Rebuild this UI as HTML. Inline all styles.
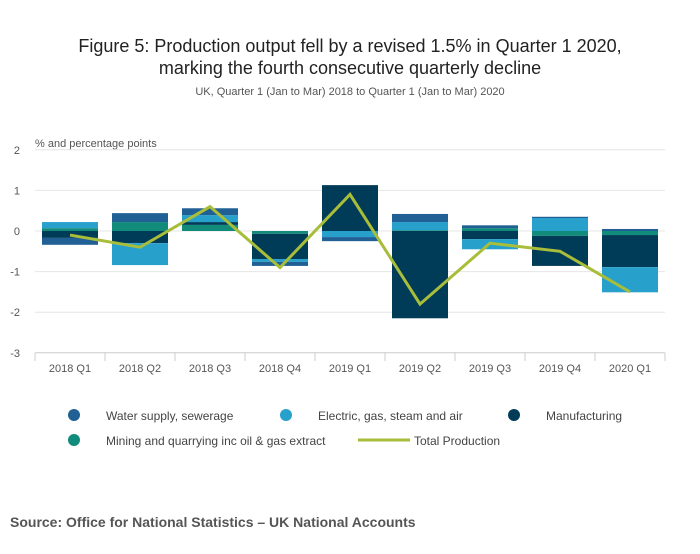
<!DOCTYPE html>
<html><head><meta charset="utf-8">
<style>
body{margin:0;background:#fff;font-family:"Liberation Sans",sans-serif;}
svg text{font-family:"Liberation Sans",sans-serif;}
</style></head>
<body>
<svg width="700" height="549" viewBox="0 0 700 549">
<text x="350" y="52" text-anchor="middle" font-size="18" fill="#222">Figure 5: Production output fell by a revised 1.5% in Quarter 1 2020,</text>
<text x="350" y="74" text-anchor="middle" font-size="18" fill="#222">marking the fourth consecutive quarterly decline</text>
<text x="350" y="95" text-anchor="middle" font-size="11" fill="#555">UK, Quarter 1 (Jan to Mar) 2018 to Quarter 1 (Jan to Mar) 2020</text>
<text x="35" y="147" font-size="11" fill="#555">% and percentage points</text>
<g id="grid"></g><g id="bars"></g><g id="line"></g><g id="axis"></g>
<g>
<g><circle cx="74" cy="415" r="6" fill="#206095"/><text x="106" y="420" font-size="12" fill="#444">Water supply, sewerage</text></g>
<g><circle cx="286" cy="415" r="6" fill="#27a0cc"/><text x="318" y="420" font-size="12" fill="#444">Electric, gas, steam and air</text></g>
<g><circle cx="514" cy="415" r="6" fill="#003c57"/><text x="546" y="420" font-size="12" fill="#444">Manufacturing</text></g>
<g><circle cx="74" cy="440" r="6" fill="#118c7b"/><text x="106" y="445" font-size="12" fill="#444">Mining and quarrying inc oil &amp; gas extract</text></g>
<g><line x1="358" y1="440" x2="410" y2="440" stroke="#a8bd3a" stroke-width="3"/><text x="414" y="445" font-size="12" fill="#444">Total Production</text></g>
</g>
<text x="10" y="527" font-size="14" font-weight="bold" fill="#555">Source: Office for National Statistics – UK National Accounts</text>
</svg>
<script>
const categories=["2018 Q1","2018 Q2","2018 Q3","2018 Q4","2019 Q1","2019 Q2","2019 Q3","2019 Q4","2020 Q1"];
const water=[-0.17,0.22,0.17,-0.1,-0.1,0.2,0.07,0.03,0.05];
const electric=[0.15,-0.54,0.17,-0.07,-0.15,0.2,-0.25,0.32,-0.62];
const manufacturing=[-0.17,-0.3,0.07,-0.62,1.13,-2.15,-0.2,-0.74,-0.79];
const mining=[0.07,0.22,0.15,-0.07,0.0,0.02,0.07,-0.12,-0.1];
const total=[-0.1,-0.4,0.6,-0.9,0.9,-1.8,-0.3,-0.5,-1.5];
const yTicks=[2,1,0,-1,-2,-3];
const NS="http://www.w3.org/2000/svg";
const x0=35,bw=70,y0=231,pu=40.6;
const y=v=>y0-v*pu;
const xc=i=>x0+bw*(i+0.5);
function mk(t,a,p){const e=document.createElementNS(NS,t);for(const k in a)e.setAttribute(k,a[k]);p.appendChild(e);return e;}
const grid=document.getElementById('grid');
yTicks.forEach(t=>{
 const l=mk('line',{x1:x0,x2:665,y1:y(t),y2:y(t),stroke:t===-3?'#ccc':'#e6e6e6','stroke-width':1},grid);
 
 
 const tx=mk('text',{x:20,y:y(t)+4,'text-anchor':'end','font-size':11,fill:'#555'},grid);
 tx.textContent=t;
 
 
});
const bars=document.getElementById('bars');
const series=[["mining",mining,"#118c7b"],["manufacturing",manufacturing,"#003c57"],["electric",electric,"#27a0cc"],["water",water,"#206095"]];
categories.forEach((c,i)=>{
 let pos=0,neg=0;
 series.forEach(([n,d,col])=>{
  const v=d[i];let a,b;
  if(v>=0){a=pos;b=pos+v;pos=b;}else{a=neg;b=neg+v;neg=b;}
  const r=mk('rect',{x:xc(i)-28,width:56,y:Math.min(y(a),y(b)),height:Math.abs(y(a)-y(b)),fill:col},bars);
  
  
 });
});
const lg=document.getElementById('line');
const p=mk('polyline',{points:total.map((v,i)=>xc(i)+','+y(v)).join(' '),fill:'none',stroke:'#a8bd3a','stroke-width':3,'stroke-linejoin':'miter'},lg);


const ax=document.getElementById('axis');
for(let i=0;i<=categories.length;i++){
 const t=mk('line',{x1:x0+bw*i,x2:x0+bw*i,y1:353,y2:361,stroke:'#ccc'},ax);
 
 
}
categories.forEach((c,i)=>{
 const t=mk('text',{x:xc(i),y:372,'text-anchor':'middle','font-size':11,fill:'#555'},ax);
 t.textContent=c;
 
 
});
</script>
</body></html>
